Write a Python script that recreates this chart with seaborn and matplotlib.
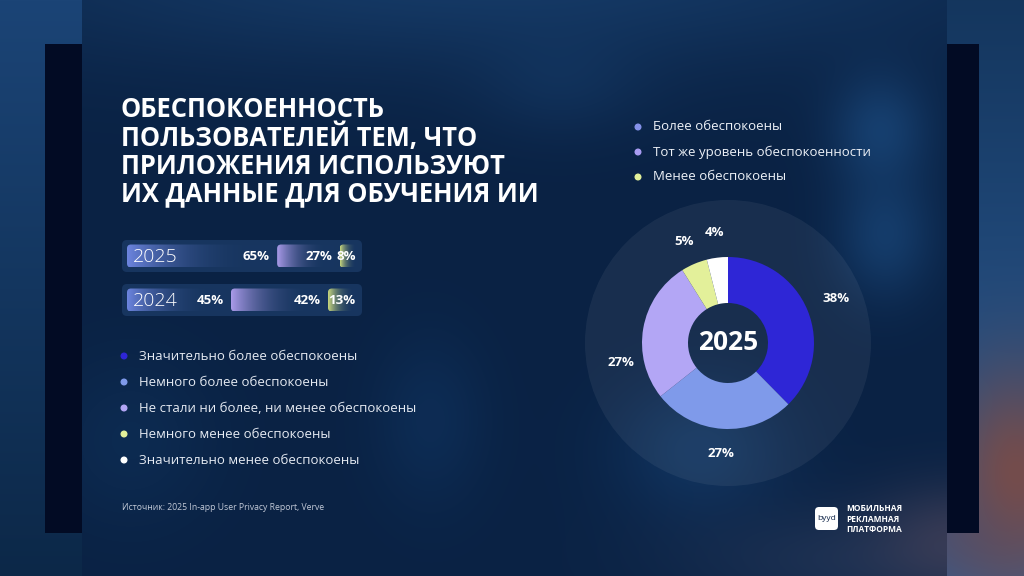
import numpy as np
import matplotlib
matplotlib.use("Agg")
import matplotlib.pyplot as plt
import seaborn as sns
from matplotlib.patches import FancyBboxPatch, Circle

# ---- data ----
years = ["2025", "2024"]
bar_2025 = [65, 27, 8]
bar_2024 = [45, 42, 13]
bar_labels_2025 = ["65%", "27%", "8%"]
bar_labels_2024 = ["45%", "42%", "13%"]

donut_values = [38, 27, 27, 5, 4]
donut_labels = ["38%", "27%", "27%", "5%", "4%"]

legend_left = ["Значительно более обеспокоены", "Немного более обеспокоены",
               "Не стали ни более, ни менее обеспокоены", "Немного менее обеспокоены",
               "Значительно менее обеспокоены"]
legend_right = ["Более обеспокоены", "Тот же уровень обеспокоенности", "Менее обеспокоены"]

title = "ОБЕСПОКОЕННОСТЬ\nПОЛЬЗОВАТЕЛЕЙ ТЕМ, ЧТО\nПРИЛОЖЕНИЯ ИСПОЛЬЗУЮТ\nИХ ДАННЫЕ ДЛЯ ОБУЧЕНИЯ ИИ"
source = "Источник: 2025 In-app User Privacy Report, Verve"

# ---- styling ----
donut_colors = ["#2e26d6", "#7f9aea", "#b3a6f5", "#e3f09a", "#ffffff"]
left_dots = ["#2e26d6", "#7f9aea", "#b3a6f5", "#e3f09a", "#ffffff"]
right_dots = ["#8592ea", "#a99cf2", "#e3f09a"]
seg_colors = ["#6c84de", "#a99ae8", "#c9d87e"]
track_color = "#1b3a66"

sns.set_theme(style="white")
plt.rcParams["font.family"] = ["Open Sans", "DejaVu Sans"]

W, H = 1024, 576
fig = plt.figure(figsize=(10.24, 5.76), dpi=100)


def hex2rgb(h):
    h = h.lstrip("#")
    return np.array([int(h[i:i + 2], 16) / 255 for i in (0, 2, 4)])


# ---- background ----
yy, xx = np.mgrid[0:H, 0:W].astype(float)
img = np.zeros((H, W, 3))
outside = (xx < 82) | (xx > 946)
t = yy / H
img[:] = hex2rgb("#0a2244")
img[outside] = (hex2rgb("#1b4476") * (1 - t[outside])[:, None]
                + hex2rgb("#0c2848") * t[outside][:, None])
right = xx > 946
img[right] = (hex2rgb("#14365e") * (1 - t[right])[:, None]
              + hex2rgb("#2d5d97") * t[right][:, None])


def blob(cx, cy, sx, sy, col, amt, mask=None):
    g = np.exp(-(((xx - cx) / sx) ** 2 + ((yy - cy) / sy) ** 2) / 2) * amt
    if mask is not None:
        g = g * mask
    global img
    img = img * (1 - g[..., None]) + hex2rgb(col) * g[..., None]


slide = (~outside).astype(float)
blob(480, -30, 380, 70, "#194272", 0.75, slide)
blob(880, 130, 35, 40, "#1d5088", 0.6, slide)
blob(885, 235, 35, 45, "#1d5088", 0.55, slide)
blob(700, 450, 60, 50, "#17457a", 0.5, slide)
blob(430, 420, 40, 60, "#123b6c", 0.4, slide)
blob(130, 440, 60, 60, "#123a68", 0.35, slide)
blob(560, 80, 60, 40, "#173f6e", 0.4, slide)
blob(850, 560, 120, 40, "#27395a", 0.6, slide)
blob(1015, 480, 50, 80, "#8a4a3a", 0.8, right.astype(float))
blob(960, 540, 60, 40, "#5a4b5e", 0.5)
img[(xx >= 45) & (xx < 82) & (yy >= 44) & (yy < 533)] = hex2rgb("#020b24")
img[(xx > 946) & (xx < 979) & (yy >= 44) & (yy < 533)] = hex2rgb("#020b24")

ax_bg = fig.add_axes([0, 0, 1, 1])
ax_bg.imshow(img, extent=(0, W, H, 0), aspect="auto", zorder=0)
ax_bg.set_xlim(0, W)
ax_bg.set_ylim(H, 0)
ax_bg.axis("off")

# ---- title ----
ax_bg.text(121, 96, title, color="white", fontsize=18.4, fontweight="bold",
           va="top", ha="left", linespacing=1.03)

# ---- right legend ----
for i, (lab, c) in enumerate(zip(legend_right, right_dots)):
    y = 127 + i * 25
    ax_bg.add_patch(Circle((638, y), 2.8, color=c, zorder=3))
    ax_bg.text(653, y, lab, color="#eef2f8", fontsize=9.5, va="center", ha="left")

# ---- left legend ----
for i, (lab, c) in enumerate(zip(legend_left, left_dots)):
    y = 356 + i * 26
    ax_bg.add_patch(Circle((124, y), 2.8, color=c, zorder=3))
    ax_bg.text(139, y, lab, color="#e6ebf3", fontsize=9.5, va="center", ha="left")

# ---- source + logo ----
ax_bg.text(122, 507, source, color="#c3cad8", fontsize=6.2, va="center", ha="left")
ax_bg.add_patch(FancyBboxPatch((815, 507), 23, 23, boxstyle="round,pad=0,rounding_size=4",
                               fc="white", ec="none", zorder=3))
ax_bg.text(826.5, 518.5, "byyd", color="#0c2246", fontsize=6, va="center", ha="center", zorder=4)
ax_bg.text(846, 519, "МОБИЛЬНАЯ\nРЕКЛАМНАЯ\nПЛАТФОРМА", color="white", fontsize=6,
           fontweight="bold", va="center", ha="left", linespacing=1.25)

# ---- bars ----
x0_px, x1_px = 122, 362
ax_b = fig.add_axes([x0_px / W, 1 - 320 / H, (x1_px - x0_px) / W, 84 / H])
ax_b.patch.set_alpha(0)
ppx = 231 / 100  # px per unit
asp = (1 / 44) / (1 / ppx)

# track boxes via seaborn
sns.barplot(x=[100, 100], y=years, orient="h", ax=ax_b, color=track_color, width=32 / 44)
for p in list(ax_b.patches):
    y, h = p.get_y(), p.get_height()
    p.remove()
    ax_b.add_patch(FancyBboxPatch((-5 / ppx, y), 100 + 9 / ppx, h,
                                  boxstyle=f"round,pad=0,rounding_size={5 / ppx}",
                                  mutation_aspect=asp, fc=track_color, ec="none",
                                  alpha=0.8, zorder=1))
ax_b.set_xlim(-5 / ppx, 100 + 4 / ppx)
ax_b.set_ylim(1 + 20 / 44, -20 / 44)
ax_b.axis("off")

gap = 2.2
bh = 23 / 44
for row, (vals, labs) in enumerate([(bar_2025, bar_labels_2025), (bar_2024, bar_labels_2024)]):
    lefts = np.concatenate([[0], np.cumsum(vals)[:-1]])
    for j, (l, v, lab) in enumerate(zip(lefts, vals, labs)):
        w = v - (gap if j < len(vals) - 1 else 0)
        ax_b.barh(row, w, left=l, height=bh, color="none", edgecolor="none", linewidth=0, zorder=2)
        clip = FancyBboxPatch((l, row - bh / 2), w, bh,
                              boxstyle=f"round,pad=0,rounding_size={4 / ppx}",
                              mutation_aspect=asp, fc="none", ec="none", lw=0,
                              transform=ax_b.transData)
        ax_b.add_patch(clip)
        n = 64
        grad = np.zeros((1, n, 4))
        a = np.clip(1 - np.linspace(0, 1, n) / 0.8, 0, 1) ** 1.2
        grad[0, :, :3] = hex2rgb(seg_colors[j]) * a[:, None] + hex2rgb(track_color) * (1 - a[:, None])
        grad[0, :, 3] = 0.2 + 0.8 * a
        im = ax_b.imshow(grad, extent=(l, l + w, row + bh / 2, row - bh / 2),
                         aspect="auto", zorder=3, interpolation="bilinear")
        im.set_clip_path(clip)
        ax_b.text(l + w - 1.0, row, lab, color="white", fontsize=9.5, fontweight="bold",
                  ha="right", va="center", zorder=4)
    ax_b.text(2.5, row + 0.02, years[row], color="white", fontsize=14, fontweight="light",
              ha="left", va="center", zorder=4)
ax_b.set_xlim(-5 / ppx, 100 + 4 / ppx)
ax_b.set_ylim(1 + 20 / 44, -20 / 44)

# ---- donut ----
r_px = 86
cx, cy = 728, 343
half = 150
ax_d = fig.add_axes([(cx - half) / W, 1 - (cy + half) / H, 2 * half / W, 2 * half / H])
ax_d.patch.set_alpha(0)
lim = half / r_px
ax_d.add_patch(Circle((0, 0), 143 / r_px, color="white", alpha=0.06, lw=0))
wedges, texts = ax_d.pie(donut_values, colors=donut_colors, startangle=90, counterclock=False,
                         radius=1, labels=donut_labels, labeldistance=1.29,
                         wedgeprops=dict(width=1 - 40 / r_px, linewidth=0),
                         textprops=dict(color="white", fontsize=9.5, fontweight="bold"))
for tx in texts:
    tx.set_ha("center")
    tx.set_va("center")
# left 27% label sits lower in the original
x, y = texts[2].get_position()
ang = np.arctan2(y, x) + np.deg2rad(20)
rr = np.hypot(x, y) * 0.98
texts[2].set_position((rr * np.cos(ang), rr * np.sin(ang)))
x, y = texts[0].get_position()
texts[0].set_position((x * 1.05, y * 1.05))
ax_d.text(0, 0, "2025", color="white", fontsize=19, fontweight="bold", ha="center", va="center")
ax_d.set_xlim(-lim, lim)
ax_d.set_ylim(-lim, lim)
ax_d.set_aspect("equal")
ax_d.axis("off")

fig.savefig("out.png", dpi=100)
